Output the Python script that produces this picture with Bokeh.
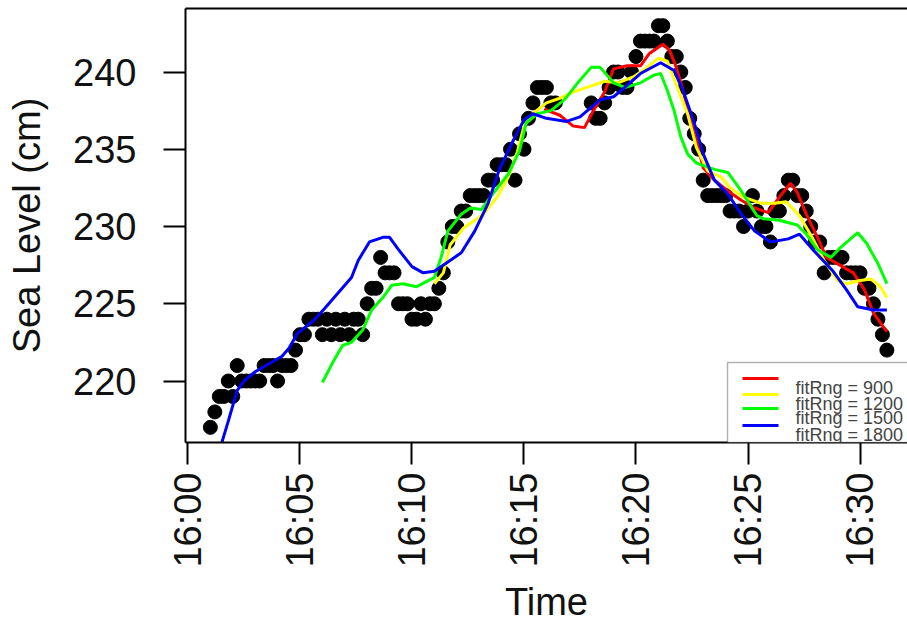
import math
from bokeh.plotting import figure
from bokeh.models import (FixedTicker, Range1d, BoxAnnotation, Label, Arrow,
                          LinearAxis)
from bokeh.embed import file_html
from bokeh.resources import INLINE

# ---------------- data ----------------
# x values are minutes after 16:00
tick_minutes = [0, 5, 10, 15, 20, 25, 30]
tick_labels = ["16:00", "16:05", "16:10", "16:15", "16:20", "16:25", "16:30"]
level_ticks = [220, 225, 230, 235, 240]

# observed sea level (cm), one sample every 12 s starting 16:01:00
obs_start_min = 1.0
obs_step_min = 0.2
nan = float("nan")
obs_level = [
    217, 218, 219, 219, 220, 219, 221, 220, 220, 220,
    220, 220, 221, 221, 221, 220, 221, 221, 221, 222,
    223, 223, 224, 224, 224, 223, 224, 223, 224, 223,
    224, 223, 224, 224, 223, 225, 226, 226, 228, 227,
    227, 227, 225, 225, 225, 224, 224, 225, 224, 225,
    225, 226, 227, 229, 230, 230, 231, 231, 232, 232,
    232, 232, 233, 233, 234, 234, 234, 235, 233, 236,
    235, 237, 238, 239, 239, 239, 238, 238, nan, nan,
    nan, nan, nan, nan, nan, 238, 237, 237, 238, 239,
    240, 240, 239, 239, 240, 241, 242, 242, 242, 242,
    243, 243, 242, 241, 241, 240, 239, 237, 236, 235,
    233, 232, 232, 232, 232, 232, 231, 231, 231, 230,
    231, 232, 231, 230, 230, 229, 231, 231, 232, 233,
    233, 232, 232, 231, 230, 229, 229, 227, 228, 228,
    228, 228, 227, 227, 227, 227, 226, 226, 225, 224,
    223, 222,
]
obs_time = [obs_start_min + obs_step_min * i for i in range(len(obs_level))]

# fitted curves
red_label = "fitRng = 900"
red_t = [15.9, 16.6, 17.2, 17.7, 18.1, 18.6, 19.0, 19.6, 20.2, 20.6,
         21.2, 21.5, 21.8, 22.1, 22.4, 22.7, 23.0, 23.5, 24.1, 24.7,
         25.3, 25.9, 26.4, 26.9, 27.2, 27.6, 28.1, 28.5, 29.1, 29.7,
         30.2, 30.6, 31.2]
red_v = [237.6, 237.2, 236.5, 236.4, 237.5, 238.7, 240.2, 240.4, 240.4, 241.2,
         241.8, 241.4, 240.3, 238.8, 237.1, 235.6, 233.8, 233.0, 232.3, 231.7,
         231.2, 230.9, 231.9, 232.8, 232.2, 230.8, 229.3, 228.0, 227.5, 227.0,
         225.9, 224.4, 223.2]

yellow_label = "fitRng = 1200"
yellow_t = [11.0, 11.4, 11.7, 12.3, 13.2, 13.8, 14.3, 14.7, 15.0, 15.4,
            16.0, 16.6, 17.2, 18.0, 18.6, 19.2, 19.9, 20.5, 21.0, 21.4,
            21.8, 22.3, 22.7, 23.2, 23.8, 24.2, 24.8, 25.6, 26.2, 26.7,
            27.3, 27.9, 28.4, 29.0, 29.4, 30.0, 30.5, 30.9, 31.2]
yellow_v = [226.3, 227.0, 228.8, 229.9, 230.8, 231.9, 233.2, 234.8, 236.5, 237.3,
            238.0, 238.3, 238.7, 239.1, 239.4, 239.3, 239.7, 240.3, 240.9, 240.7,
            239.2, 237.3, 235.1, 233.6, 233.2, 232.5, 231.9, 231.5, 231.5, 231.6,
            230.7, 229.2, 227.8, 226.5, 226.3, 226.5, 226.6, 226.1, 225.4]

green_label = "fitRng = 1500"
green_t = [6.0, 6.5, 6.9, 7.3, 7.8, 8.2, 8.7, 9.1, 9.6, 10.2,
           10.6, 11.0, 11.3, 11.6, 12.2, 12.6, 13.1, 13.5, 14.3, 14.8,
           15.1, 15.6, 16.2, 16.8, 17.4, 18.0, 18.4, 19.0, 19.5, 20.2,
           20.8, 21.1, 21.4, 21.7, 22.0, 22.3, 22.7, 23.5, 24.1, 24.7,
           25.4, 25.7, 26.4, 27.2, 27.6, 28.1, 28.7, 29.1, 29.9, 30.3,
           30.8, 31.2]
green_v = [219.9, 221.3, 222.3, 222.5, 223.3, 224.6, 225.4, 226.2, 226.3, 226.1,
           226.4, 226.7, 228.0, 229.7, 230.8, 231.2, 231.1, 231.9, 233.4, 234.9,
           236.7, 237.3, 237.5, 238.2, 239.3, 240.3, 240.3, 239.3, 239.0, 239.3,
           239.8, 239.9, 238.8, 237.5, 235.8, 234.7, 234.1, 233.7, 233.5, 232.3,
           230.7, 230.5, 230.4, 230.1, 229.5, 228.5, 228.0, 228.6, 229.6, 228.9,
           227.6, 226.3]

blue_label = "fitRng = 1800"
blue_t = [1.3, 1.8, 2.2, 2.5, 3.0, 3.6, 4.2, 4.5, 4.9, 5.6,
          6.1, 6.7, 7.3, 7.6, 8.1, 8.7, 9.0, 9.4, 10.0, 10.5,
          11.0, 11.7, 12.2, 12.8, 13.4, 13.9, 14.5, 15.0, 15.4, 16.0,
          16.9, 17.5, 18.4, 19.0, 19.5, 20.2, 21.1, 21.7, 22.1, 22.6,
          23.0, 23.5, 24.1, 24.7, 25.3, 26.0, 26.8, 27.3, 27.9, 28.8,
          29.4, 29.9, 30.6, 31.2]
blue_v = [215.0, 217.4, 219.4, 220.0, 220.6, 221.1, 221.6, 222.1, 223.1, 223.9,
          224.7, 225.7, 226.7, 227.8, 229.0, 229.3, 229.3, 228.5, 227.4, 227.0,
          227.1, 227.8, 228.3, 229.7, 231.5, 233.7, 235.5, 236.9, 237.3, 237.0,
          236.8, 237.1, 238.2, 238.4, 239.0, 239.9, 240.6, 240.1, 238.8, 236.7,
          234.7, 233.0, 232.1, 230.8, 229.7, 229.0, 229.2, 229.5, 228.5, 227.1,
          225.9, 224.8, 224.6, 224.6]

# ---------------- figure ----------------
FONT = "Liberation Sans"
p = figure(width=907, height=626, output_backend="svg", toolbar_location=None,
           x_range=Range1d(-0.11, 32.12), y_range=Range1d(216.02, 244.11),
           min_border_left=185, min_border_right=0, min_border_top=8,
           min_border_bottom=184)
p.background_fill_color = "white"
p.border_fill_color = "white"
p.outline_line_color = None
p.xgrid.visible = False
p.ygrid.visible = False

# observed points
p.scatter(obs_time, obs_level, size=14, color="black", line_color="black")

# fitted lines (drawn over the points)
series = [(red_t, red_v, "#FF0000", red_label),
          (yellow_t, yellow_v, "#FFFF00", yellow_label),
          (green_t, green_v, "#00FF00", green_label),
          (blue_t, blue_v, "#0000FF", blue_label)]
for t, v, c, _ in series:
    p.line(t, v, line_color=c, line_width=3)

# axes
for ax in (p.xaxis[0], p.yaxis[0]):
    ax.axis_line_color = "black"
    ax.axis_line_width = 2
    ax.major_tick_line_color = "black"
    ax.major_tick_line_width = 2
    ax.major_tick_in = 0
    ax.major_tick_out = 22
    ax.minor_tick_line_color = None
    ax.major_label_text_font = FONT
    ax.major_label_text_font_size = "38px"
    ax.major_label_text_color = "#111111"
    ax.axis_label_text_font = FONT
    ax.axis_label_text_font_size = "38px"
    ax.axis_label_text_font_style = "normal"
    ax.axis_label_text_color = "#111111"

p.xaxis.ticker = FixedTicker(ticks=tick_minutes)
p.xaxis.major_label_overrides = {m: l for m, l in zip(tick_minutes, tick_labels)}
p.xaxis.major_label_orientation = math.pi / 2
p.xaxis.major_label_standoff = 8
p.xaxis.axis_label = "Time"
p.xaxis.axis_label_standoff = 10

p.yaxis.ticker = FixedTicker(ticks=level_ticks)
p.yaxis.major_label_orientation = "horizontal"
p.yaxis.major_label_standoff = 27
p.yaxis.axis_label = "Sea Level (cm)"
p.yaxis.axis_label_standoff = 22

# top border of the box
top = LinearAxis(ticker=FixedTicker(ticks=[]), axis_line_color="black",
                 axis_line_width=2, major_tick_line_color=None,
                 minor_tick_line_color=None, major_label_text_font_size="0px")
p.add_layout(top, "above")

# ---------------- legend (screen units, relative to plot frame) ----------------
leg_left, leg_bottom, leg_top = 542, 0, 80
p.add_layout(BoxAnnotation(left=leg_left, right=leg_left + 240, bottom=leg_bottom, top=leg_top,
                           left_units="screen", right_units="screen",
                           bottom_units="screen", top_units="screen",
                           fill_color="white", fill_alpha=1.0,
                           line_color="black", line_width=1.5))
row_y = [64, 48, 34, 17]
for (t, v, c, lab), ry in zip(series, row_y):
    p.add_layout(Arrow(end=None, x_start=leg_left + 15, y_start=ry,
                       x_end=leg_left + 51, y_end=ry,
                       start_units="screen", end_units="screen",
                       line_color=c, line_width=3))
    p.add_layout(Label(x=leg_left + 68, y=ry - 9, x_units="screen", y_units="screen",
                       text=lab, text_font=FONT, text_font_size="18px",
                       text_color="#444444", text_baseline="alphabetic"))

open("out.html", "w").write(file_html(p, INLINE))
